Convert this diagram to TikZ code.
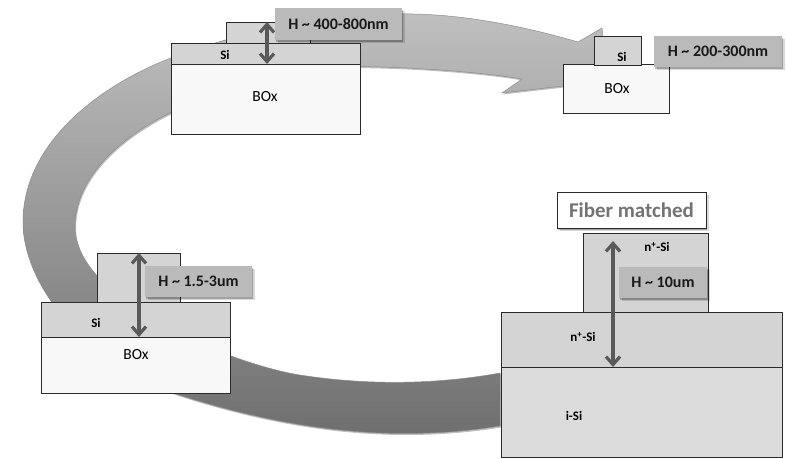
\documentclass[tikz,border=0pt]{standalone}
\usepackage{fontspec}
\setmainfont{Carlito}
\usetikzlibrary{arrows.meta,shadows,positioning}
\definecolor{ribgray}{HTML}{D4D4D4}
\definecolor{igray}{HTML}{DCDCDC}
\definecolor{boxgray}{HTML}{F8F8F8}
\definecolor{labelgray}{HTML}{BABABA}
\definecolor{arrowgray}{HTML}{595959}
\definecolor{edgegray}{HTML}{2A2A2A}
\tikzset{
  x=1pt,y=-1pt,
  softshadow/.style={
     drop shadow={shadow xshift=2.5pt,shadow yshift=-3pt,opacity=.15,fill=black},
     drop shadow={shadow xshift=1.2pt,shadow yshift=-1.5pt,opacity=.25,fill=black}},
  layer/.style={draw=edgegray,line width=1pt,inner sep=0pt,outer sep=0pt,anchor=north west,fill=ribgray},
  oxide/.style={layer,fill=boxgray},
  isi/.style={layer,fill=igray},
  heightlabel/.style={fill=labelgray,inner sep=0pt,outer sep=0pt,anchor=north west,align=center,
     font=\fontsize{16}{18}\selectfont\bfseries,text=black!90,softshadow},
  fiberbox/.style={draw=edgegray,fill=white,line width=1pt,inner sep=0pt,outer sep=0pt,anchor=north west,
     font=\fontsize{21}{23}\selectfont\bfseries,text=black!55,softshadow},
  boldtxt/.style={font=\fontsize{13}{15}\selectfont\bfseries,text=black,inner sep=0pt},
  plaintxt/.style={font=\fontsize{15.5}{17}\selectfont,text=black,inner sep=0pt},
  span/.style={draw=arrowgray,line width=3.2pt,{Straight Barb[length=8pt,width=14pt,line width=3.2pt]}-{Straight Barb[length=8pt,width=14pt,line width=3.2pt]}},
}
\begin{document}
\begin{tikzpicture}
\useasboundingbox (0,0) rectangle (787,458);
\fill[white] (0,0) rectangle (787,458);
% circular arrow
\def\arcpath{
  (500,426) .. controls (400,442) and (295,433) .. (173,393)
  .. controls (93,365) and (23,290) .. (23,222)
  .. controls (23,140) and (105,83) .. (171,58)
  .. controls (250,28) and (340,12) .. (413,14)
  .. controls (470,15) and (530,28) .. (578,42)
  -- (602,28) -- (602,40) -- (655,75) -- (563,86) -- (502,93) -- (522,79)
  .. controls (480,72) and (420,68) .. (380,67)
  .. controls (300,64) and (230,84) .. (170,113)
  .. controls (125,135) and (75,175) .. (75,227)
  .. controls (75,300) and (230,364) .. (300,375)
  .. controls (370,386) and (440,384) .. (500,373)
  -- cycle}
\fill[black,opacity=.25,shift={(1,1.5)}] \arcpath;
\shade[top color=black!25,bottom color=black!57,draw=black!45,line width=.5pt] \arcpath;
% top-left stack
\node[layer,minimum width=84,minimum height=21] (ribA) at (226,22) {};
\node[layer,minimum width=189,minimum height=21] (siA) at (171,43) {};
\node[oxide,minimum width=189,minimum height=70] (boxA) at (171,64) {};
\node[boldtxt] (siAt) at (225,55) {Si};
\node[plaintxt] (boxAt) at (265,97) {BOx};
\coordinate (arrAt) at (267,22);
\draw[span] (arrAt) -- (arrAt |- boxA.north);
\node[heightlabel,minimum width=127,minimum height=32] (labA) at (275,8) {H \textasciitilde{} 400-800nm};
% top-right stack
\node[oxide,minimum width=106,minimum height=49] (boxB) at (563,64) {};
\node[layer,minimum width=47,minimum height=29] (ribB) at (594,36) {};
\node[boldtxt] (siBt) at (622,57) {Si};
\node[plaintxt] (boxBt) at (617,89) {BOx};
\node[heightlabel,minimum width=128,minimum height=31] (labB) at (654,36) {H \textasciitilde{} 200-300nm};
% left stack
\node[layer,minimum width=83,minimum height=49] (ribC) at (97,253) {};
\node[layer,minimum width=189,minimum height=35] (siC) at (41,302) {};
\node[oxide,minimum width=189,minimum height=56] (boxC) at (41,337) {};
\node[boldtxt] (siCt) at (96,323) {Si};
\node[plaintxt] (boxCt) at (136,355) {BOx};
\coordinate (arrCt) at (139,253);
\draw[span] (arrCt) -- (arrCt |- boxC.north);
\node[heightlabel,minimum width=107,minimum height=31] (labC) at (145,266) {H \textasciitilde{} 1.5-3um};
% right stack
\node[isi,minimum width=281,minimum height=90] (isiD) at (501,367) {};
\node[layer,minimum width=281,minimum height=55] (nD) at (501,312) {};
\node[layer,minimum width=125,minimum height=79] (ribD) at (583,233) {};
\node[boldtxt] (nDt) at (657,247) {n\textsuperscript{+}-Si};
\node[boldtxt] (nDb) at (583,337) {n\textsuperscript{+}-Si};
\node[boldtxt] (iDt) at (574,416) {i-Si};
\coordinate (arrDt) at (613,241);
\draw[span] (arrDt) -- (arrDt |- isiD.north);
\node[heightlabel,minimum width=88,minimum height=31] (labD) at (619,267) {H \textasciitilde{} 10um};
\node[fiberbox,minimum width=149,minimum height=36] (fiber) at (557,192) {Fiber matched};
\end{tikzpicture}
\end{document}
